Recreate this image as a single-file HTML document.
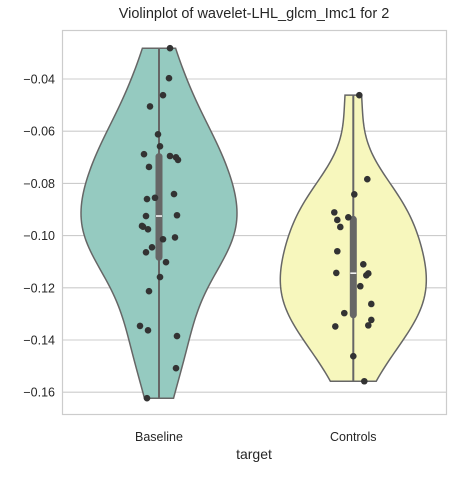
<!DOCTYPE html>
<html><head><meta charset="utf-8"><style>
html,body{margin:0;padding:0;background:#fff;}
svg text{font-family:"Liberation Sans","DejaVu Sans",sans-serif;fill:#262626;}
</style></head><body>
<svg id="chart" width="459" height="473" xmlns="http://www.w3.org/2000/svg">
<rect x="0" y="0" width="459" height="473" fill="#fff"/>
<g id="grid"></g>
<g id="violins"></g>
<g id="points"></g>
<rect x="62.5" y="30.5" width="384" height="384" fill="none" stroke="#cccccc" stroke-width="1.2"/>
<g id="yticks"></g>
<g id="xticks"></g>
<text x="254" y="18" font-size="14.5" text-anchor="middle">Violinplot of wavelet-LHL_glcm_Imc1 for 2</text>
<text x="254" y="459" font-size="14" text-anchor="middle">target</text>
</svg>
<script>
const categories = ["Baseline", "Controls"];
const baselineValues = [-0.0282,-0.0397,-0.0462,-0.0505,-0.0612,-0.0658,-0.0688,-0.0695,-0.0700,-0.0710,-0.0737,-0.0841,-0.0860,-0.0855,-0.0922,-0.0925,-0.0963,-0.0966,-0.0976,-0.1014,-0.1007,-0.1045,-0.1064,-0.1102,-0.1159,-0.1213,-0.1346,-0.1363,-0.1385,-0.1508,-0.1623];
const baselineJitter = [11,10,4,-9,-1,1,-15,11,17,19,-10,15,-12,-4,18,-13,-17,-16,-11,4,16,-7,-13,7,1,-10,-19,-11,18,17,-12];
const controlsValues = [-0.0462,-0.0784,-0.0842,-0.0911,-0.0940,-0.0930,-0.0967,-0.1060,-0.1110,-0.1143,-0.1145,-0.1152,-0.1194,-0.1262,-0.1297,-0.1348,-0.1323,-0.1344,-0.1462,-0.1558];
const controlsJitter = [6,14,1,-19,-16,-5,-13,-16,10,-17,15,13,7,18,-9,-18,18,15,0,11];
const yTicks = [-0.04,-0.06,-0.08,-0.10,-0.12,-0.14,-0.16];
const yTickLabels = ["\u22120.04","\u22120.06","\u22120.08","\u22120.10","\u22120.12","\u22120.14","\u22120.16"];

const NS="http://www.w3.org/2000/svg";
function y(v){return 79 + (-0.04 - v)/0.02*52.2;}
function x(i){return 159 + i*194.3;}
function mk(tag,attrs,parent){const e=document.createElementNS(NS,tag);for(const k in attrs)e.setAttribute(k,attrs[k]);parent.appendChild(e);return e;}
const grid=document.getElementById('grid'),yt=document.getElementById('yticks'),xt=document.getElementById('xticks');
yTicks.forEach((t,i)=>{
  const l=mk('line',{x1:62,x2:446,y1:y(t),y2:y(t),stroke:'#cccccc','stroke-width':1.1},grid);
  
  
  const tx=mk('text',{x:55,y:y(t)+4.5,'font-size':12.5,'text-anchor':'end'},yt);
  tx.textContent=yTickLabels[i];
  
  
});
categories.forEach((c,i)=>{
  const tx=mk('text',{x:x(i),y:441,'font-size':12.5,'text-anchor':'middle'},xt);
  tx.textContent=c;
  
  
});
function stats(a){const n=a.length,m=a.reduce((s,v)=>s+v,0)/n;const sd=Math.sqrt(a.reduce((s,v)=>s+(v-m)*(v-m),0)/(n-1));return{n,sd};}
function kde(a,pts){const {n,sd}=stats(a);const bw=sd*Math.pow(n,-0.2);return pts.map(p=>a.reduce((s,v)=>s+Math.exp(-0.5*((p-v)/bw)**2),0)/(n*bw*Math.sqrt(2*Math.PI)));}
function q(a,p){const s=[...a].sort((u,v)=>u-v);const h=(s.length-1)*p,lo=Math.floor(h);return s[lo]+(s[Math.min(lo+1,s.length-1)]-s[lo])*(h-lo);}
const series=[baselineValues,controlsValues],jit=[baselineJitter,controlsJitter],fills=['#95cac0','#f7f7bd'];
const halfW=[78,73];
const dens=series.map(a=>{const mn=Math.min(...a),mx=Math.max(...a);const pts=[];for(let k=0;k<=100;k++)pts.push(mn+(mx-mn)*k/100);return{pts,d:kde(a,pts)};});
const vg=document.getElementById('violins'),pg=document.getElementById('points');
series.forEach((a,i)=>{
  const {pts,d}=dens[i];const cx=x(i);const W=halfW[i];const lm=Math.max(...d);
  let path='';pts.forEach((p,k)=>{path+=(k?'L':'M')+(cx+d[k]/lm*W).toFixed(2)+','+y(p).toFixed(2);});
  for(let k=pts.length-1;k>=0;k--)path+='L'+(cx-d[k]/lm*W).toFixed(2)+','+y(pts[k]).toFixed(2);
  path+='Z';
  const v=mk('path',{d:path,fill:fills[i],stroke:'#666666','stroke-width':1.5},vg);
  
  
  const wl=mk('line',{x1:cx,x2:cx,y1:y(Math.max(...a)),y2:y(Math.min(...a)),stroke:'#666666','stroke-width':2},vg);
  
  
  const bx=mk('line',{x1:cx,x2:cx,y1:y(q(a,0.75)),y2:y(q(a,0.25)),stroke:'#666666','stroke-width':7,'stroke-linecap':'round'},vg);
  
  
  const md=mk('line',{x1:cx-3,x2:cx+3,y1:y(q(a,0.5)),y2:y(q(a,0.5)),stroke:'#ffffff','stroke-width':1.5},vg);
  
  
  a.forEach((val,k)=>{
    const c=mk('circle',{cx:cx+jit[i][k],cy:y(val),r:3.3,fill:'#333333'},pg);
    
    
  });
});
</script>
</body></html>
